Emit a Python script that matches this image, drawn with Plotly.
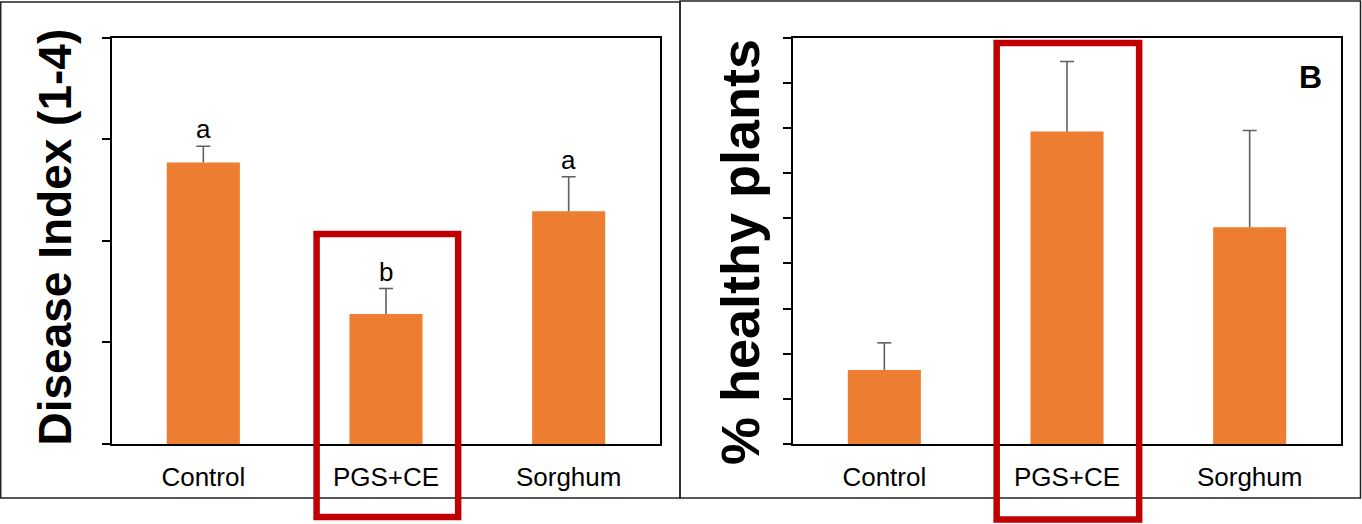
import plotly.graph_objects as go
from plotly.subplots import make_subplots

# Treatments
treatments = ["Control", "PGS+CE", "Sorghum"]

# Disease index (scale 1-4), means and standard errors
disease_index = [2.77, 1.28, 2.29]
disease_err = [0.16, 0.25, 0.34]
disease_letters = ["a", "b", "a"]

# Percentage of healthy plants, means and standard errors
healthy_pct = [16.4, 69.2, 48.0]
healthy_err = [6.0, 15.5, 21.4]

W, H = 1362, 524
BAR = "#ED7D31"
RED = "#C00000"
ERR = "#5f5f5f"
FONT = "Liberation Sans, Arial, sans-serif"

left_dom = [112 / W, 660 / W]
right_dom = [793 / W, 1341 / W]
y_dom = [1 - 444 / H, 1 - 37.5 / H]

fig = make_subplots(rows=1, cols=2)

# Upper-only error bars: stems from the error_y, caps added as markers on top
err_style = dict(type="data", visible=True, symmetric=False, arrayminus=[0, 0, 0],
                 color=ERR, thickness=1.6, width=0)


def add_panel(values, errs, col):
    fig.add_trace(go.Bar(x=treatments, y=values,
                         error_y=dict(array=errs, **err_style),
                         marker=dict(color=BAR, line=dict(width=0)), width=0.4,
                         showlegend=False, hoverinfo="x+y"), row=1, col=col)
    fig.add_trace(go.Scatter(x=treatments, y=[v + e for v, e in zip(values, errs)],
                             mode="markers", showlegend=False, hoverinfo="skip",
                             marker=dict(symbol="line-ew", size=10,
                                         line=dict(color=ERR, width=1.6))),
                  row=1, col=col)


add_panel(disease_index, disease_err, 1)
add_panel(healthy_pct, healthy_err, 2)

axis_common = dict(showline=True, linecolor="black", linewidth=2, mirror=True,
                   showgrid=False, zeroline=False)

fig.update_xaxes(axis_common, tickfont=dict(family=FONT, size=26, color="black"),
                 ticks="", ticklabelstandoff=9)
fig.update_yaxes(axis_common, ticks="outside", ticklen=8, tickwidth=1.5,
                 tickcolor="black", showticklabels=False)

fig.update_layout(
    xaxis=dict(domain=left_dom),
    xaxis2=dict(domain=right_dom),
    yaxis=dict(domain=y_dom, range=[0, 4], dtick=1),
    yaxis2=dict(domain=y_dom, range=[0, 90], dtick=10),
)

# Significance letters above the error bars
for t, v, e, s in zip(treatments, disease_index, disease_err, disease_letters):
    fig.add_annotation(x=t, y=v + e, xref="x", yref="y", text=s, showarrow=False,
                       yanchor="bottom", yshift=0,
                       font=dict(family=FONT, size=26, color="black"))

# Axis titles
fig.add_annotation(x=54 / W, y=1 - 237.5 / H, xref="paper", yref="paper",
                   text="<b>Disease Index (1-4)</b>", textangle=-90, showarrow=False,
                   xanchor="center", yanchor="middle",
                   font=dict(family=FONT, size=46, color="black"))
fig.add_annotation(x=740 / W, y=1 - 252 / H, xref="paper", yref="paper",
                   text="<b>% healthy plants</b>", textangle=-90, showarrow=False,
                   xanchor="center", yanchor="middle",
                   font=dict(family=FONT, size=54, color="black"))

# Panel letter
fig.add_annotation(x=1310 / W, y=1 - 77 / H, xref="paper", yref="paper",
                   text="<b>B</b>", showarrow=False, xanchor="center", yanchor="middle",
                   font=dict(family=FONT, size=32, color="black"))

# Panel frames
fig.add_shape(type="rect", xref="paper", yref="paper",
              x0=0.7 / W, x1=680 / W, y0=1 - 498 / H, y1=1 - 2 / H,
              line=dict(color="#222222", width=1.5))
fig.add_shape(type="rect", xref="paper", yref="paper",
              x0=680 / W, x1=1360.5 / W, y0=1 - 498 / H, y1=1 - 1 / H,
              line=dict(color="#222222", width=1.5))


def cat_to_paper(dom, idx, offset):
    """Paper x-fraction of a position on a 3-category axis."""
    return dom[0] + (idx + 0.5 + offset) / len(treatments) * (dom[1] - dom[0])


# Highlight boxes around the PGS+CE treatment
hi = treatments.index("PGS+CE")
fig.add_shape(type="rect", xref="paper", yref="paper",
              x0=cat_to_paper(left_dom, hi, -0.38), x1=cat_to_paper(left_dom, hi, 0.395),
              y0=1 - 517 / H, y1=1 - 234 / H,
              line=dict(color=RED, width=6.5))
fig.add_shape(type="rect", xref="paper", yref="paper",
              x0=cat_to_paper(right_dom, hi, -0.385), x1=cat_to_paper(right_dom, hi, 0.395),
              y0=1 - 519.5 / H, y1=1 - 43 / H,
              line=dict(color=RED, width=6.5))

fig.update_layout(width=W, height=H, margin=dict(l=0, r=0, t=0, b=0),
                  paper_bgcolor="white", plot_bgcolor="white", bargap=0.6)

fig.write_html("out.html")
